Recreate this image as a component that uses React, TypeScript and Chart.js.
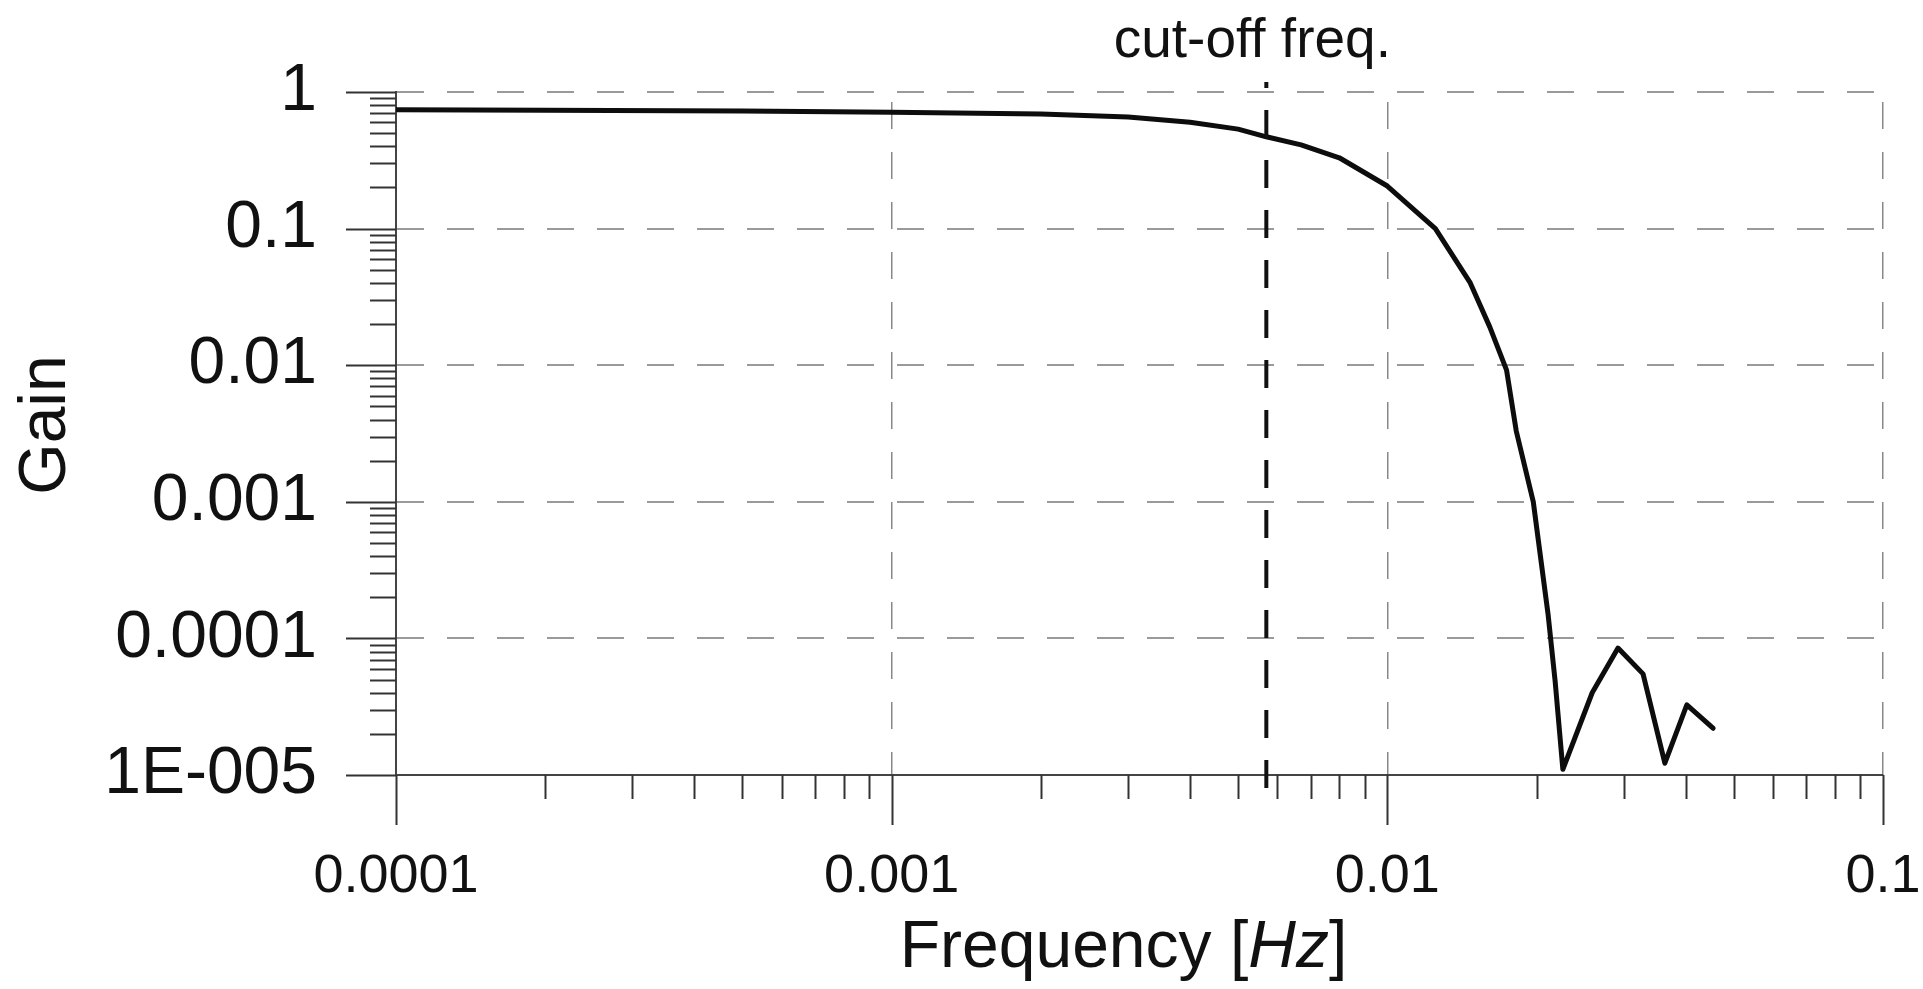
import React, { useEffect, useRef } from "react";
import { Chart, registerables } from "chart.js";

Chart.register(...registerables);

// ---- data ----
const frequencyHz = [
  0.0001, 0.0002, 0.0005, 0.001, 0.002, 0.003, 0.004, 0.005, 0.0057, 0.0067, 0.008,
  0.01, 0.0125, 0.0147, 0.0161, 0.0174, 0.0182, 0.0197, 0.0211, 0.0218, 0.0226,
  0.0259, 0.0292, 0.0328, 0.0363, 0.0402, 0.0454,
];
const gainValues = [
  0.74, 0.735, 0.725, 0.71, 0.69, 0.655, 0.6, 0.535, 0.47, 0.41, 0.33,
  0.205, 0.1, 0.04, 0.019, 0.0092, 0.0033, 0.001, 0.00015, 0.000049, 0.000011,
  0.00004, 0.000085, 0.000055, 0.0000122, 0.0000326, 0.000022,
];

const xDecades = [0.0001, 0.001, 0.01, 0.1];
const xDecadeLabels = ["0.0001", "0.001", "0.01", "0.1"];
const yDecades = [0.00001, 0.0001, 0.001, 0.01, 0.1, 1];
const yDecadeLabels = ["1E-005", "0.0001", "0.001", "0.01", "0.1", "1"];
const minorMultiples = [2, 3, 4, 5, 6, 7, 8, 9];

const cutoffFrequency = 0.0057;
const cutoffLabel = "cut-off freq.";
const xTitleParts = ["Frequency [", "Hz", "]"];
const yTitle = "Gain";

const FONT = "'Liberation Sans', Arial, Helvetica, sans-serif";

function buildTicks(decades: number[]): number[] {
  const out: number[] = [];
  for (let i = 0; i < decades.length; i++) {
    out.push(decades[i]);
    if (i < decades.length - 1) {
      for (const m of minorMultiples) out.push(m * decades[i]);
    }
  }
  return out;
}

function majorIndex(v: number, decades: number[]): number {
  return decades.findIndex((d) => Math.abs(v / d - 1) < 1e-6);
}

const overlayPlugin = {
  id: "overlay",
  afterDraw(chart: any) {
    const { ctx, chartArea } = chart;
    const x = chart.scales.x;
    const y = chart.scales.y;
    ctx.save();

    // tick marks
    ctx.strokeStyle = "#333";
    ctx.lineWidth = 2;
    ctx.setLineDash([]);
    for (const v of buildTicks(xDecades)) {
      const px = Math.round(x.getPixelForValue(v)) + 0.5;
      const len = majorIndex(v, xDecades) >= 0 ? 50 : 24;
      ctx.beginPath();
      ctx.moveTo(px, chartArea.bottom);
      ctx.lineTo(px, chartArea.bottom + len);
      ctx.stroke();
    }
    for (const v of buildTicks(yDecades)) {
      const py = Math.round(y.getPixelForValue(v)) + 0.5;
      const len = majorIndex(v, yDecades) >= 0 ? 50 : 26;
      ctx.beginPath();
      ctx.moveTo(chartArea.left, py);
      ctx.lineTo(chartArea.left - len, py);
      ctx.stroke();
    }

    // cut-off line
    const cx = x.getPixelForValue(cutoffFrequency);
    ctx.strokeStyle = "#111";
    ctx.lineWidth = 4;
    ctx.setLineDash([28, 22]);
    ctx.lineDashOffset = 22;
    ctx.beginPath();
    ctx.moveTo(cx, chartArea.top - 10);
    ctx.lineTo(cx, chartArea.bottom + 15);
    ctx.stroke();
    ctx.setLineDash([]);

    // cut-off label
    ctx.fillStyle = "#111";
    ctx.font = `55px ${FONT}`;
    ctx.textAlign = "center";
    ctx.textBaseline = "alphabetic";
    ctx.fillText(cutoffLabel, cx - 14, chartArea.top - 35);

    // x title with italic unit
    const normalFont = `66px ${FONT}`;
    const italicFont = `italic 66px ${FONT}`;
    ctx.textAlign = "left";
    const fonts = [normalFont, italicFont, normalFont];
    const widths = xTitleParts.map((p, i) => {
      ctx.font = fonts[i];
      return ctx.measureText(p).width;
    });
    const total = widths.reduce((a, b) => a + b, 0);
    let tx = (chartArea.left + chartArea.right) / 2 - 16 - total / 2;
    const ty = chartArea.bottom + 192;
    xTitleParts.forEach((p, i) => {
      ctx.font = fonts[i];
      ctx.fillText(p, tx, ty);
      tx += widths[i];
    });

    // y title
    ctx.translate(65, (chartArea.top + chartArea.bottom) / 2 - 8.5);
    ctx.rotate(-Math.PI / 2);
    ctx.font = normalFont;
    ctx.textAlign = "center";
    ctx.fillText(yTitle, 0, 0);

    ctx.restore();
  },
};

export default function App() {
  const canvasRef = useRef<HTMLCanvasElement | null>(null);

  useEffect(() => {
    const canvas = canvasRef.current;
    if (!canvas) return;
    const chart = new Chart(canvas, {
      type: "line",
      data: {
        datasets: [
          {
            data: frequencyHz.map((f, i) => ({ x: f, y: gainValues[i] })),
            borderColor: "#0d0d0d",
            borderWidth: 5,
            borderJoinStyle: "round",
            borderCapStyle: "round",
            pointRadius: 0,
            tension: 0,
            fill: false,
          },
        ],
      },
      options: {
        animation: false,
        responsive: false,
        devicePixelRatio: 1,
        layout: { padding: { top: 92, right: 40, bottom: 0, left: 0 } },
        plugins: { legend: { display: false }, tooltip: { enabled: false } },
        scales: {
          x: {
            type: "logarithmic",
            position: "bottom",
            min: 0.0001,
            max: 0.1,
            afterBuildTicks: (scale: any) => {
              scale.ticks = buildTicks(xDecades).map((v) => ({ value: v }));
            },
            afterFit: (scale: any) => {
              scale.height = 214;
              scale.paddingLeft = 0;
              scale.paddingRight = 0;
            },
            ticks: {
              autoSkip: false,
              maxRotation: 0,
              minRotation: 0,
              padding: 70,
              color: "#111",
              font: { family: FONT, size: 54 },
              callback: (value: any) => {
                const i = majorIndex(Number(value), xDecades);
                return i >= 0 ? xDecadeLabels[i] : "";
              },
            },
            grid: {
              drawTicks: false,
              lineWidth: 1.5,
              color: (c: any) => {
                const v = c.tick ? c.tick.value : null;
                return v != null && majorIndex(v, xDecades) > 0 ? "#888" : "rgba(0,0,0,0)";
              },
            },
            border: { display: true, color: "#444", width: 2, dash: [27, 23], dashOffset: 40 },
          },
          y: {
            type: "logarithmic",
            position: "left",
            min: 0.00001,
            max: 1,
            afterBuildTicks: (scale: any) => {
              scale.ticks = buildTicks(yDecades).map((v) => ({ value: v }));
            },
            afterFit: (scale: any) => {
              scale.width = 396;
              scale.paddingTop = 0;
              scale.paddingBottom = 0;
            },
            ticks: {
              autoSkip: false,
              padding: 79,
              color: "#111",
              font: { family: FONT, size: 66 },
              callback: (value: any) => {
                const i = majorIndex(Number(value), yDecades);
                return i >= 0 ? yDecadeLabels[i] : "";
              },
            },
            grid: {
              drawTicks: false,
              lineWidth: 2,
              color: (c: any) => {
                const v = c.tick ? c.tick.value : null;
                return v != null && majorIndex(v, yDecades) > 0 ? "#9a9a9a" : "rgba(0,0,0,0)";
              },
            },
            border: { display: true, color: "#444", width: 2, dash: [27, 23], dashOffset: 0 },
          },
        },
      },
      plugins: [overlayPlugin],
    } as any);
    return () => chart.destroy();
  }, []);

  return (
    <canvas
      ref={canvasRef}
      width={1923}
      height={989}
      style={{ position: "fixed", left: 0, top: 0, width: "1923px", height: "989px", background: "#fff" }}
    />
  );
}
